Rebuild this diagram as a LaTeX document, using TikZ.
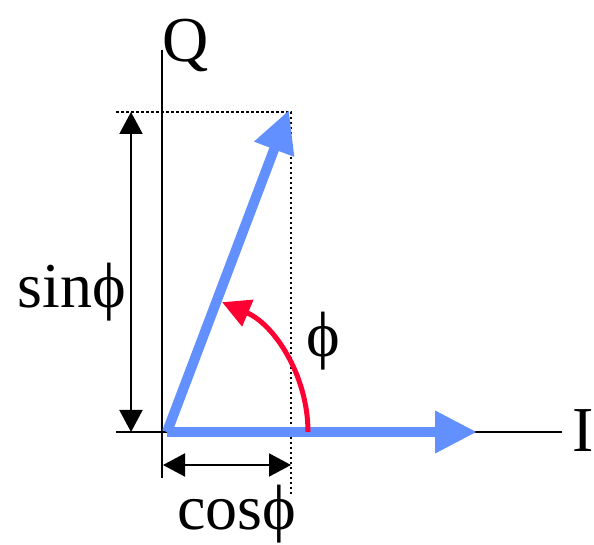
\documentclass[tikz,border=0pt]{standalone}
\usepackage{fontspec}
\setmainfont{Liberation Serif}
\usetikzlibrary{arrows.meta}

\definecolor{phasorblue}{RGB}{98,144,255}
\definecolor{anglered}{RGB}{255,0,51}

\begin{document}
\begin{tikzpicture}[x=1pt,y=1pt,line width=2pt,
  phasor/.style={phasorblue,line width=10pt,-{Triangle[length=42pt,width=40pt]}},
  dim/.style={{Triangle[length=22pt,width=23pt]}-{Triangle[length=22pt,width=23pt]}},
  guide/.style={line width=2.6pt,dash pattern=on 2.5pt off 2.5pt},
  lbl/.style={font=\fontsize{64}{70}\selectfont,inner sep=0pt,anchor=base}]
  \useasboundingbox (0,0) rectangle (594,545);
  \coordinate (O) at (167,113);
  \coordinate (P) at (289,435);
  \coordinate (A) at (477,113);
  % axes
  \draw (162,495) -- (162,67);
  \draw (116,113) -- (562,113);
  \node[lbl] (qlab) at (186,483) {Q};
  \node[lbl] (ilab) at (583,93) {I};
  % projections
  \draw[guide] (116,433) -- (291,433) -- (291,50);
  \draw[dim] (131,433) -- (131,113);
  \draw[dim] (163,80) -- (291,80);
  \node[lbl] (sinlab) at (72,237) {sinϕ};
  \node[lbl] (coslab) at (237,15) {cosϕ};
  % phasors
  \draw[phasor] (O) -- (A);
  \draw[phasor] (O) -- (P);
  \draw[anglered,line width=5pt,-{Triangle[length=28pt,width=28pt]}]
    ([xshift=141pt]O) arc (0:67:141);
  \node[lbl,anchor=center] (philab) at (323,204) {ϕ};
\end{tikzpicture}
\end{document}
